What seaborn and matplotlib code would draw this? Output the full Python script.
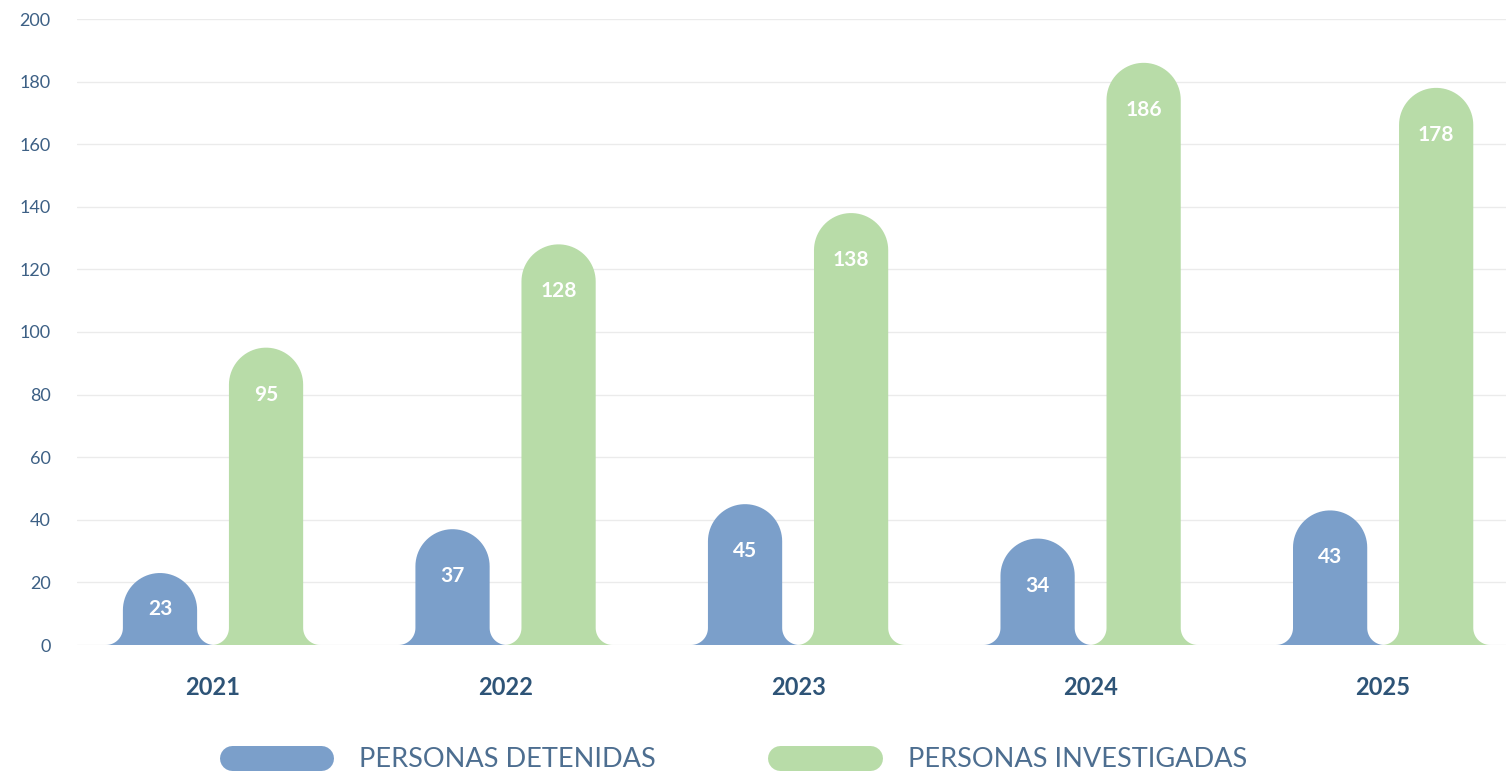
import numpy as np
import pandas as pd
import seaborn as sns
import matplotlib.pyplot as plt
from matplotlib.path import Path
from matplotlib.patches import PathPatch
from matplotlib.lines import Line2D

# data
years = ["2021", "2022", "2023", "2024", "2025"]
detenidas = [23, 37, 45, 34, 43]
investigadas = [95, 128, 138, 186, 178]
series = ["PERSONAS DETENIDAS", "PERSONAS INVESTIGADAS"]
colors = ["#7b9fca", "#b8dca8"]

df = pd.DataFrame({
    "year": years * 2,
    "value": detenidas + investigadas,
    "serie": [series[0]] * len(years) + [series[1]] * len(years),
})

sns.set_theme(style="white")
plt.rcParams["font.family"] = ["Lato", "DejaVu Sans"]

W, H = 1506, 775
fig = plt.figure(figsize=(W / 100, H / 100), dpi=100)
ax_l, ax_b, ax_w, ax_h = 77, 130, 1429, 626
ax = fig.add_axes([ax_l / W, ax_b / H, ax_w / W, ax_h / H])

sns.barplot(data=df, x="year", y="value", hue="serie", palette=colors,
            width=0.725, gap=0.3, saturation=1, legend=False, ax=ax)

xlim = (-0.465, 4.42)
ylim = (0, 200)
ax.set_xlim(*xlim)
ax.set_ylim(*ylim)
sx = ax_w / (xlim[1] - xlim[0])   # px per x unit
sy = ax_h / (ylim[1] - ylim[0])   # px per y unit


def bar_path(xc, w, h, flare=17):
    # rounded top, flared foot; built in pixels then mapped to data units
    half = w * sx / 2
    top = h * sy
    r = half
    pts = []
    t = np.linspace(-np.pi / 2, 0, 20)
    pts += list(zip(-half - flare + flare * np.cos(t), flare + flare * np.sin(t)))
    t = np.linspace(np.pi, 0, 40)
    pts += list(zip(r * np.cos(t), top - r + r * np.sin(t)))
    t = np.linspace(np.pi, 1.5 * np.pi, 20)
    pts += list(zip(half + flare + flare * np.cos(t), flare + flare * np.sin(t)))
    pts = np.array(pts)
    verts = np.column_stack([xc + pts[:, 0] / sx, pts[:, 1] / sy])
    verts = np.vstack([verts, verts[:1]])
    codes = [Path.MOVETO] + [Path.LINETO] * (len(verts) - 2) + [Path.CLOSEPOLY]
    return Path(verts, codes)


for p in list(ax.patches):
    h = p.get_height()
    if h <= 0:
        continue
    xc = p.get_x() + p.get_width() / 2
    w = p.get_width()
    p.set_visible(False)
    ax.add_patch(PathPatch(bar_path(xc, w, h), facecolor=p.get_facecolor(),
                           edgecolor="none", zorder=3))
    off = min(15, h / 2)
    ax.text(xc, h - off, f"{int(round(h))}", ha="center", va="center",
            color="white", fontsize=15, fontweight="bold", zorder=4)

ax.set_yticks(range(0, 201, 20))
ax.yaxis.grid(True, color="#ebebeb", linewidth=1)
ax.set_axisbelow(True)
for s in ax.spines.values():
    s.set_visible(False)
ax.tick_params(axis="y", length=0, pad=19, labelsize=13, labelcolor="#3d6085")
ax.tick_params(axis="x", length=0, pad=22, labelsize=17, labelcolor="#2e5477")
for lbl in ax.get_xticklabels():
    lbl.set_fontweight("bold")
ax.set_xlabel("")
ax.set_ylabel("")

handles = [Line2D([0], [0], color=c, lw=18, solid_capstyle="round") for c in colors]
leg = fig.legend(handles, series, loc="center", bbox_to_anchor=(0.491, 0.02),
                 ncol=2, frameon=False, fontsize=19.5, handlelength=3.3,
                 handletextpad=1.4, columnspacing=4.6)
for t in leg.get_texts():
    t.set_color("#4d6e90")

fig.savefig("out.png", dpi=100)
